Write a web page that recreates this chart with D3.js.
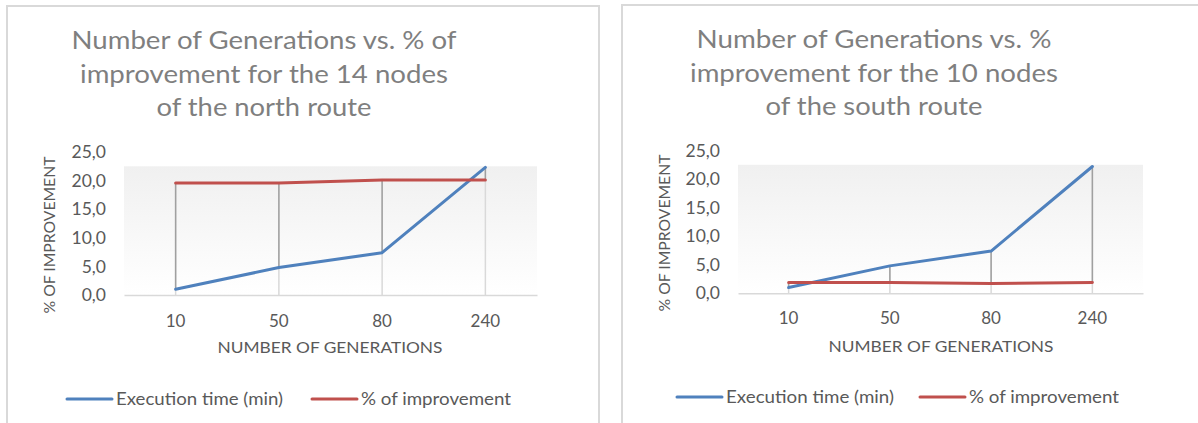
<!DOCTYPE html>
<html>
<head>
<meta charset="utf-8">
<script src="https://cdn.jsdelivr.net/npm/d3@7"></script>
<style>
  html, body { margin: 0; padding: 0; background: #fff; }
  svg { display: block; font-family: Lato, "Open Sans", sans-serif; }
</style>
</head>
<body>
<div id="svgContainer"></div>
<script>
// data
const generations = ["10", "50", "80", "240"];
const northExecTime = [1.0, 4.8, 7.4, 22.3];
const northImprovement = [19.6, 19.6, 20.1, 20.1];
const southExecTime = [1.0, 4.8, 7.4, 22.2];
const southImprovement = [1.9, 1.9, 1.7, 1.9];
const yTicks = [0, 5, 10, 15, 20, 25];
const northTitle = ["Number of Generations vs. % of", "improvement  for the 14 nodes", "of the north route"];
const southTitle = ["Number of Generations vs. %", "improvement  for the 10 nodes", "of the south route"];
const seriesNames = ["Execution time (min)", "% of improvement"];

const width = 1198;
const height = 423;
const blue = "#4f81bd";
const red = "#c0504d";
const textColor = "#595959";

const locale = d3.formatLocale({ decimal: ",", thousands: ".", grouping: [3], currency: ["", ""] });
const tickFormat = locale.format(".1f");

const svg = d3.select("#svgContainer")
    .append("svg")
    .attr("width", width)
    .attr("height", height);

const defs = svg.append("defs");
const grad = defs.append("linearGradient")
    .attr("id", "plotGrad")
    .attr("x1", 0).attr("y1", 0).attr("x2", 0).attr("y2", 1);
grad.append("stop").attr("offset", "0%").attr("stop-color", "#f0f0f0");
grad.append("stop").attr("offset", "100%").attr("stop-color", "#ffffff");

function drawChart(cfg) {
    const g = svg.append("g");

    // panel border
    g.append("rect")
        .attr("x", cfg.panelX)
        .attr("y", cfg.panelY)
        .attr("width", cfg.panelW)
        .attr("height", 500)
        .attr("fill", "#fff")
        .attr("stroke", "#d9d9d9")
        .attr("stroke-width", 2);

    const x = d3.scaleBand()
        .domain(generations)
        .range(cfg.xRange);
    const cx = d => x(d) + x.bandwidth() / 2;

    const y = d3.scaleLinear()
        .domain([0, 25])
        .range([cfg.baseY, cfg.topY]);

    // plot background gradient
    g.append("rect")
        .attr("x", cfg.xRange[0])
        .attr("y", y(22.5))
        .attr("width", cfg.xRange[1] - cfg.xRange[0])
        .attr("height", y(0) - y(22.5))
        .attr("fill", "url(#plotGrad)");

    // title
    g.append("text")
        .attr("fill", "#7f7f7f")
        .style("font-size", "25px")
        .attr("text-anchor", "middle")
        .selectAll("tspan")
        .data(cfg.title)
        .join("tspan")
        .attr("x", cfg.titleX)
        .attr("y", (d, i) => cfg.titleY + i * 33.5)
        .attr("textLength", (d, i) => cfg.titleLen[i])
        .attr("lengthAdjust", "spacingAndGlyphs")
        .text(d => d);

    const execData = generations.map((k, i) => ({ k: k, v: cfg.exec[i] }));
    const impData = generations.map((k, i) => ({ k: k, v: cfg.imp[i] }));

    // drop lines to the axis
    g.append("g")
        .selectAll("line")
        .data(generations)
        .join("line")
        .attr("x1", d => cx(d))
        .attr("x2", d => cx(d))
        .attr("y1", (d, i) => y(Math.max(cfg.exec[i], cfg.imp[i])))
        .attr("y2", y(0))
        .attr("stroke", "#d9d9d9")
        .attr("stroke-width", 1.5);

    // high-low lines
    g.append("g")
        .selectAll("line")
        .data(generations)
        .join("line")
        .attr("x1", d => cx(d))
        .attr("x2", d => cx(d))
        .attr("y1", (d, i) => y(Math.max(cfg.exec[i], cfg.imp[i])))
        .attr("y2", (d, i) => y(Math.min(cfg.exec[i], cfg.imp[i])))
        .attr("stroke", "#a0a0a0")
        .attr("stroke-width", 1.5);

    // baseline
    const xAxis = g.append("g")
        .attr("transform", `translate(0,${y(0)})`)
        .call(d3.axisBottom(x).tickSize(0).tickPadding(0).tickFormat(""));
    xAxis.select(".domain").attr("stroke", "#d9d9d9").attr("stroke-width", 1.5);

    // x tick labels
    g.append("g")
        .selectAll("text")
        .data(generations)
        .join("text")
        .attr("x", d => cx(d))
        .attr("y", cfg.xLabelY)
        .attr("text-anchor", "middle")
        .attr("fill", textColor)
        .style("font-size", "17px")
        .text(d => d);

    // y tick labels
    const yAxis = g.append("g")
        .attr("transform", `translate(${cfg.yLabelX},0)`)
        .call(d3.axisLeft(y).tickValues(yTicks).tickSize(0).tickPadding(0).tickFormat(tickFormat));
    yAxis.select(".domain").remove();
    yAxis.selectAll("text")
        .attr("fill", textColor)
        .style("font-size", "17.5px")
        .style("font-family", "Lato, sans-serif");

    // axis titles
    g.append("text")
        .attr("x", cfg.xTitleX)
        .attr("y", cfg.xTitleY)
        .attr("text-anchor", "middle")
        .attr("fill", textColor)
        .style("font-size", "15px")
        .attr("textLength", 225)
        .attr("lengthAdjust", "spacingAndGlyphs")
        .text("NUMBER OF GENERATIONS");

    g.append("text")
        .attr("transform", `translate(${cfg.yTitleX},${cfg.yTitleY}) rotate(-90)`)
        .attr("text-anchor", "middle")
        .attr("fill", textColor)
        .style("font-size", "15px")
        .attr("textLength", 157)
        .attr("lengthAdjust", "spacingAndGlyphs")
        .text("% OF IMPROVEMENT");

    // series
    const line = d3.line()
        .x(d => cx(d.k))
        .y(d => y(d.v));

    [[execData, blue], [impData, red]].forEach(s => {
        g.append("path")
            .datum(s[0])
            .attr("d", line)
            .attr("fill", "none")
            .attr("stroke", s[1])
            .attr("stroke-width", 3)
            .attr("stroke-linejoin", "round")
            .attr("stroke-linecap", "round");
    });

    // legend
    const legend = g.append("g");
    [blue, red].forEach((c, i) => {
        const lx = cfg.legendX[i];
        legend.append("line")
            .attr("x1", lx)
            .attr("x2", lx + 45)
            .attr("y1", cfg.legendY)
            .attr("y2", cfg.legendY)
            .attr("stroke", c)
            .attr("stroke-width", 3)
            .attr("stroke-linecap", "round");
        legend.append("text")
            .attr("x", lx + 49)
            .attr("y", cfg.legendY + 6)
            .attr("fill", textColor)
            .style("font-size", "17px")
            .attr("textLength", cfg.legendLen[i])
            .attr("lengthAdjust", "spacingAndGlyphs")
            .text(seriesNames[i]);
    });
}

drawChart({
    panelX: 7, panelY: 6, panelW: 592,
    xRange: [124, 537], baseY: 295, topY: 152,
    title: northTitle, titleX: 264, titleY: 49, titleLen: [385, 368, 215],
    exec: northExecTime, imp: northImprovement,
    xLabelY: 327, yLabelX: 106,
    xTitleX: 330, xTitleY: 353,
    yTitleX: 55, yTitleY: 235,
    legendX: [67, 312], legendY: 399, legendLen: [167, 150]
});

drawChart({
    panelX: 622, panelY: 5, panelW: 600,
    xRange: [738, 1143], baseY: 293.3, topY: 150.5,
    title: southTitle, titleX: 874, titleY: 48, titleLen: [355, 368, 217],
    exec: southExecTime, imp: southImprovement,
    xLabelY: 324, yLabelX: 720,
    xTitleX: 941, xTitleY: 351.5,
    yTitleX: 670, yTitleY: 233,
    legendX: [677, 920], legendY: 397, legendLen: [168, 150]
});
</script>
</body>
</html>
